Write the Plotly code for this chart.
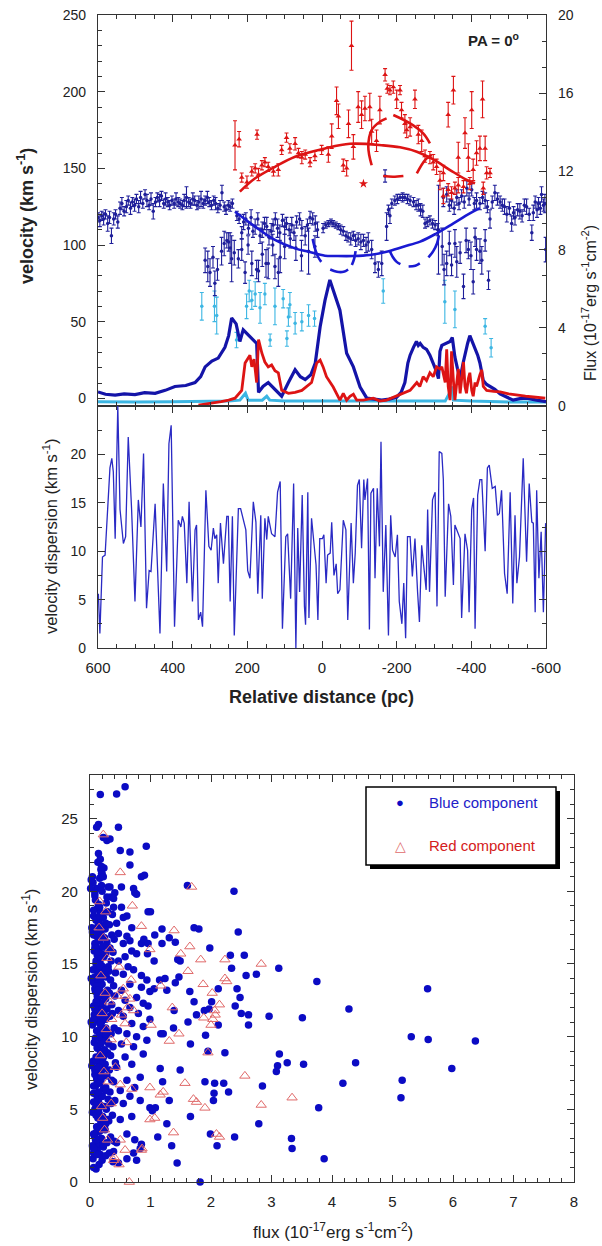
import plotly.graph_objects as go

W, H = 602, 1246
FONT = "Liberation Sans, Arial, sans-serif"

# ---------------- top panel: line-of-sight velocity along the slit ----------------
# blue component (d = relative distance in pc, v in km/s, e = error)
blue_vel_d = [600, 595, 590, 585, 580, 574, 569, 564, 558, 553,
              547, 541, 536, 530, 524, 519, 513, 508, 502, 497,
              491, 486, 480, 474, 469, 463, 458, 452, 446, 441,
              435, 430, 424, 419, 413, 408, 402, 396, 391, 385,
              380, 374, 369, 363, 357, 352, 346, 341, 335, 330,
              324, 318, 313, 307, 302, 296, 290, 285, 279, 273,
              268, 262, 257, 251, 246, 240,
              228, 222, 215, 210, 204, 197, 190, 185, 179, 172,
              166, 160, 154, 148, 142, 136, 131, 125, 119, 113,
              106, 100, 95, 88, 81, 75, 68, 60, 54, 45,
              39, 32, 25, 18, 12,
              313, 306, 300, 292, 287, 280, 269, 262, 255, 250,
              246, 242, 235, 224, 215, 206, 198, 188, 175, 170,
              160, 150, 144, 132, 126, 117, 112, 100, 85, 70,
              55, 36, 19,
              -3, -10, -17, -24, -30, -37, -44, -50, -57, -64,
              -70, -77, -84, -90, -97, -104, -111, -118, -124, -133,
              -142, -151, -160, -169, -173, -178, -182, -187, -195, -202,
              -209, -216, -222, -229, -236, -245, -252, -258, -264, -270,
              -276, -282, -289, -296, -303, -310, -312,
              -325, -334, -341, -347, -354, -361, -367, -374, -381, -388,
              -394, -401, -408, -414, -423, -430, -437, -443, -450, -456,
              -463, -470, -477, -483, -489, -495, -502, -508, -513, -517,
              -524, -530, -536, -542, -548, -555, -562, -566, -571, -576,
              -580, -585, -588, -593, -597, -599,
              -322, -327, -334, -341, -347, -356, -361, -370, -379, -386,
              -392, -399, -405, -410, -414, -423, -428, -437, -446]
blue_vel_v = [118, 116, 119, 117, 120, 114, 118, 106, 117, 120,
              115, 124, 127, 122, 125, 129, 124, 128, 126, 130,
              125, 131, 127, 133, 129, 126, 130, 122, 128, 131,
              129, 132, 127, 130, 128, 126, 129, 127, 130, 128,
              127, 126, 129, 131, 128, 127, 130, 129, 126, 128,
              130, 127, 129, 131, 128, 126, 129, 127, 124, 126,
              134, 125, 123, 126, 125, 127,
              119, 117, 108, 115, 117, 111, 118, 109, 112, 117,
              106, 110, 114, 112, 105, 109, 113, 117, 111, 108,
              116, 112, 114, 110, 113, 108, 115, 117, 111, 106,
              113, 118, 117, 114, 110,
              90, 86, 82, 92, 75, 84, 96, 101, 103, 102,
              98, 91, 95, 91, 97, 82, 100, 88, 84, 83,
              94, 88, 88, 100, 86, 82, 92, 99, 104, 98,
              93, 96, 99,
              111, 113, 114, 115, 114, 113, 112, 110, 109, 106,
              105, 104, 106, 103, 104, 102, 103, 100, 102, 97,
              88, 84, 88, 145, 112, 123, 119, 127, 129, 130,
              131, 131, 131, 130, 129, 128, 126, 126, 123, 122,
              114, 115, 116, 114, 113, 110, 110,
              131, 133, 126, 129, 124, 131, 127, 132, 128, 137,
              130, 136, 127, 129, 127, 131, 129, 125, 117, 128,
              134, 130, 128, 126, 125, 120, 124, 114, 121, 118,
              123, 122, 119, 126, 125, 120, 108, 121, 128, 123,
              127, 124, 133, 126, 127, 97,
              99, 84, 88, 101, 87, 101, 89, 95, 73, 103,
              97, 93, 76, 105, 97, 96, 90, 103, 77]
blue_vel_e = [3, 4, 3, 4, 3, 5, 4, 5, 4, 3,
              4, 4, 4, 3, 4, 3, 4, 3, 4, 3,
              4, 4, 3, 3, 4, 3, 4, 5, 3, 3,
              4, 3, 3, 4, 3, 3, 3, 3, 4, 3,
              3, 3, 4, 7, 3, 3, 4, 3, 3, 4,
              5, 3, 3, 4, 3, 3, 3, 4, 3, 3,
              5, 3, 3, 3, 3, 3,
              3, 3, 4, 5, 4, 4, 5, 4, 5, 4,
              5, 5, 4, 6, 5, 5, 4, 4, 6, 5,
              4, 5, 4, 4, 5, 5, 4, 4, 5, 6,
              4, 4, 4, 5, 5,
              8, 10, 9, 7, 8, 7, 9, 8, 5, 6,
              10, 15, 8, 6, 7, 7, 6, 8, 6, 7,
              8, 9, 10, 7, 8, 9, 10, 8, 6, 8,
              10, 15, 7,
              3, 2, 2, 2, 2, 2, 2, 3, 3, 3,
              3, 4, 3, 4, 4, 5, 4, 5, 6, 6,
              6, 5, 8, 4, 9, 3, 5, 3, 3, 3,
              2, 3, 2, 3, 3, 3, 3, 4, 4, 4,
              3, 3, 3, 3, 3, 4, 29,
              6, 5, 4, 5, 4, 5, 4, 4, 4, 5,
              4, 4, 4, 5, 4, 4, 5, 4, 6, 4,
              5, 4, 4, 4, 5, 5, 4, 5, 4, 5,
              4, 5, 4, 4, 5, 4, 5, 5, 4, 5,
              4, 4, 5, 4, 6, 8,
              12, 10, 8, 8, 7, 9, 10, 7, 8, 8,
              6, 9, 8, 6, 7, 8, 9, 7, 6]

# red component
red_vel_d = [233, 222, 174, 215, 201, 188, 179, 170, 161, 153,
             144, 130, 117, 108, 95, 86, 72, 63, 54, 45,
             32, 19, 1, -17, -26, -39, -44, -57, -66, -71,
             -79, -84, -97, -106, -115, -128, -133, -146, -155, -169,
             -175, -182, -191, -200, -209, -213, -222, -227, -236, -249,
             -258, -267, -276, -289, -298, -307, -325, -338, -352, -365,
             -383, -392, -401, -405, -414, -423, -430, -437, -441, -450,
             -316, -325, -338, -347, -356, -365, -379, -396, -432]
red_vel_v = [165, 169, 172, 144, 141, 148, 150, 146, 152, 154,
             151, 148, 149, 162, 170, 163, 166, 160, 157, 159,
             154, 158, 162, 159, 171, 194, 184, 152, 150, 179,
             230, 164, 190, 185, 189, 190, 174, 168, 188, 211,
             202, 201, 203, 195, 201, 188, 179, 175, 177, 195,
             172, 168, 158, 157, 154, 151, 147, 185, 201, 157,
             173, 157, 188, 149, 160, 163, 195, 163, 147, 147,
             142, 132, 136, 134, 137, 139, 138, 140, 137]
red_vel_e = [16, 5, 3, 3, 4, 3, 3, 4, 3, 3,
             3, 3, 4, 3, 3, 3, 4, 3, 4, 3,
             3, 3, 3, 5, 8, 9, 8, 4, 5, 9,
             16, 8, 10, 9, 8, 9, 8, 7, 9, 4,
             3, 3, 4, 6, 3, 5, 6, 5, 6, 6,
             6, 7, 4, 4, 5, 5, 5, 8, 9, 10,
             10, 9, 12, 7, 8, 8, 12, 8, 4, 3,
             6, 5, 4, 4, 4, 5, 4, 4, 4]
red_star_d = [-111]
red_star_v = [140]

# third (cyan) component
cyan_vel_d = [322, 288, 282, 229, 202, 195, 188, 179, 166, 153,
              139, 126, 104, 94, 90, 86, 72, 54, 36, 20,
              -164, -329, -356, -437, -453]
cyan_vel_v = [60, 60, 54, 38, 60, 70, 64, 68, 59, 68,
              38, 60, 65, 39, 53, 61, 49, 50, 54, 52,
              70, 63, 58, 47, 33]
cyan_vel_e = [9, 10, 12, 5, 8, 7, 6, 8, 10, 7,
              4, 12, 6, 5, 6, 8, 7, 6, 7, 5,
              8, 14, 12, 5, 6]

# rotation-curve fits
blue_fit_d = [233, 179, 126, 72, 36, -8, -39, -84, -128, -173, -218, -263, -307, -352, -396, -423]
blue_fit_v = [121.7, 112, 103.3, 97.8, 95.6, 93, 92.8, 92.8, 93.5, 95.6, 98.9, 102.2, 107.6, 114.1, 120.6, 124]
red_fit_d = [220, 179, 126, 72, -8, -75, -164, -209, -254, -298, -343, -388, -410]
red_fit_v = [134.8, 143.5, 151, 157.6, 163, 166, 165, 163.7, 160.8, 155.8, 148.9, 142.4, 140.2]

# expanding-shell ellipse arcs (each inner list is one visible piece)
red_arc_d = [[-133, -124, -133, -155, -173], [-164, -190, -218],
             [-191, -236, -271, -289], [-254, -276, -294]]
red_arc_v = [[152, 164, 175, 180.4, 182.6], [145, 144.5, 145],
             [184.8, 179.3, 172.8, 166.3], [146.7, 155.4, 158.7]]
blue_arc_d = [[25, 18, 10, 2], [-22, -40, -58, -70], [-80, -86, -90],
              [-182, -190, -200, -210], [-232, -250, -262], [-285, -298, -308, -313]]
blue_arc_v = [[104, 97, 92, 89], [84, 82.5, 82.5, 84], [87, 91, 96],
              [96, 92, 89, 87.5], [86, 86.5, 88], [92, 96, 101, 106]]

# emission-line flux profiles (right axis, 1e-17 erg/s/cm2)
blue_flux_d = [600, 580, 554, 530, 501, 475, 447, 420, 394, 365,
               340, 325, 313, 295, 278, 260, 250, 242, 230, 220,
               211, 195, 175, 170, 158, 144, 125, 108, 90, 72,
               58, 45, 30, 18, 5, -8, -21, -30, -48, -66,
               -84, -102, -120, -140, -160, -180, -200, -212, -222, -230,
               -236, -245, -253, -258, -263, -271, -280, -289, -298, -306,
               -312, -316, -321, -334, -343, -349, -356, -363, -370, -378,
               -383, -390, -396, -403, -410, -417, -423, -432, -441, -450,
               -463, -477, -495, -512, -530, -548, -575, -600]
blue_flux_f = [0.72, 0.6, 0.56, 0.62, 0.58, 0.68, 0.65, 0.8, 1.0, 1.05,
               1.2, 1.5, 2.0, 2.3, 2.45, 3.0, 3.6, 4.5, 4.2, 3.3,
               3.9, 3.6, 3.2, 0.7, 1.0, 1.2, 0.8, 0.5, 1.2, 1.85,
               1.5, 1.35, 1.6, 2.2, 4.05, 5.4, 6.45, 5.9, 4.9, 2.7,
               2.0, 0.97, 0.4, 0.35, 0.3, 0.35, 0.45, 0.7, 1.2, 2.2,
               2.6, 3.0, 3.3, 3.1, 3.2, 3.0, 2.9, 2.6, 2.2, 1.8,
               1.4, 2.8, 3.1, 3.2, 3.3, 3.5, 2.5, 1.9, 1.4, 2.2,
               2.7, 3.2, 3.6, 3.3, 3.0, 2.6, 2.2, 1.3, 1.1, 1.0,
               0.85, 0.62, 0.45, 0.3, 0.38, 0.4, 0.3, 0.22]
red_flux_d = [331, 300, 270, 250, 233, 215, 206, 193, 188, 182,
              175, 170, 161, 153, 144, 135, 126, 117, 108, 90,
              72, 54, 41, 28, 14, 5, -3, -12, -30, -48,
              -57, -66, -75, -84, -93, -111, -137, -155, -173, -200,
              -218, -236, -254, -262, -271, -280, -289, -298, -307, -316,
              -321, -330, -334, -338, -343, -347, -352, -356, -361, -365,
              -370, -374, -379, -383, -387, -392, -396, -401, -405, -410,
              -414, -423, -428, -432, -441, -460, -477, -500, -521, -545, -566, -598]
red_flux_f = [0.05, 0.12, 0.22, 0.3, 0.4, 0.8, 2.2, 2.6, 2.0, 2.4,
              1.2, 3.4, 2.7, 2.25, 2.0, 2.1, 1.8, 1.7, 0.8, 0.65,
              0.7, 0.8, 1.0, 1.2, 2.2, 2.35, 2.0, 1.5, 0.97, 0.3,
              0.65, 0.3, 0.5, 0.6, 0.3, 0.3, 0.4, 0.25, 0.3, 0.5,
              0.65, 0.8, 1.2, 1.0, 1.5, 1.3, 1.7, 1.5, 2.0, 1.9,
              2.0, 1.2, 2.9, 1.0, 0.3, 2.8, 1.3, 0.3, 1.2, 1.9,
              0.65, 1.5, 2.25, 1.0, 0.65, 1.4, 1.7, 0.8, 0.5, 1.2,
              1.0, 1.6, 1.85, 1.0, 0.8, 0.75, 0.72, 0.62, 0.55, 0.5, 0.46, 0.4]
cyan_flux_d = [600, 500, 400, 330, 250, 220, 205, 198, 160, 148, 140, 100, 50, 0,
               -100, -200, -330, -340, -347, -352, -400, -500, -600]
cyan_flux_f = [0.22, 0.2, 0.22, 0.22, 0.25, 0.3, 0.65, 0.3, 0.3, 0.5, 0.3, 0.25, 0.25, 0.25,
               0.25, 0.22, 0.25, 0.6, 1.0, 0.3, 0.25, 0.2, 0.2]

# ---------------- middle panel: velocity dispersion along the slit ----------------
disp_d = [599, 595, 588, 581, 568, 563, 559, 554, 547, 541,
          532, 526, 519, 510, 501, 492, 485, 478, 470, 463,
          458, 447, 434, 425, 416, 410, 404, 395, 385, 378,
          374, 369, 362, 356, 347, 340, 336, 331, 325, 320,
          311, 303, 297, 291, 287, 282, 278, 272, 264, 255,
          251, 246, 240, 235, 224, 218, 204, 199, 193, 184,
          177, 172, 164, 160, 153, 148, 144, 135, 126, 119,
          112, 106, 97, 92, 84, 76, 70, 65, 60, 53,
          47, 44, 38, 35, 28, 20, 16, 11, 6, -1,
          -5, -11, -15, -22, -26, -32, -38, -42, -48, -57,
          -64, -69, -78, -84, -89, -95, -100, -106, -112, -115,
          -122, -127, -131, -138, -142, -148, -154, -158, -164, -171,
          -178, -184, -189, -196, -202, -207, -214, -219, -224, -229,
          -236, -242, -249, -256, -261, -267, -273, -279, -283, -288,
          -296, -303, -308, -314, -321, -325, -330, -339, -345, -352,
          -356, -364, -370, -374, -383, -390, -394, -401, -406, -410,
          -417, -423, -428, -437, -443, -448, -456, -464, -470, -475,
          -481, -489, -496, -504, -511, -517, -522, -529, -539, -548,
          -555, -562, -566, -571, -575, -581, -587, -593, -599]
disp_s = [5.6, 1.5, 9.4, 9.6, 18.6, 19.6, 18.2, 11.3, 25.0, 14.3,
          10.8, 11.5, 21.8, 14.3, 4.8, 15.3, 12.5, 20.1, 4.1, 8.0,
          7.9, 14.9, 1.5, 17.0, 7.9, 21.1, 23.0, 2.2, 13.2, 12.5,
          13.6, 12.9, 6.7, 15.1, 4.8, 12.2, 12.7, 2.9, 3.7, 2.2,
          16.3, 10.5, 10.1, 12.4, 11.3, 11.7, 6.7, 12.9, 8.7, 13.6,
          13.6, 4.8, 13.6, 1.3, 14.4, 14.4, 12.2, 8.0, 7.2, 15.1,
          13.0, 5.6, 13.7, 5.1, 13.4, 11.2, 13.6, 11.8, 11.5, 16.1,
          17.2, 2.0, 11.5, 11.8, 5.1, 17.0, 0.0, 12.4, 5.8, 15.8,
          4.3, 2.4, 16.1, 3.1, 13.4, 9.8, 8.6, 2.9, 11.3, 11.3,
          11.7, 6.7, 9.6, 9.8, 13.0, 7.5, 8.7, 5.6, 6.0, 13.2,
          12.2, 2.9, 12.9, 6.7, 9.8, 16.8, 17.4, 10.3, 17.4, 15.3,
          17.5, 1.9, 16.0, 16.5, 7.2, 16.5, 10.5, 21.3, 5.8, 12.7,
          1.3, 13.7, 10.1, 9.4, 11.7, 4.8, 2.5, 6.7, 1.0, 11.5,
          11.5, 7.4, 11.3, 5.8, 2.7, 10.6, 8.4, 6.0, 14.3, 5.8,
          15.3, 16.1, 4.3, 20.3, 20.1, 17.4, 5.3, 14.9, 13.6, 6.5,
          12.7, 12.0, 11.3, 3.1, 11.8, 10.1, 3.7, 14.3, 15.5, 2.0,
          15.8, 17.4, 17.4, 10.0, 18.6, 18.9, 16.5, 16.7, 13.7, 13.9,
          16.3, 7.7, 5.6, 16.1, 4.6, 13.7, 6.7, 9.4, 19.6, 8.9,
          17.0, 13.0, 12.9, 3.7, 16.3, 7.2, 12.0, 3.7, 12.9]

# ---------------- bottom panel: dispersion vs flux ----------------
sc_blue_flux = [
    0.05, 0.07, 0.04, 0.06, 0.08, 0.05, 0.07, 0.04, 0.06, 0.08,
    0.05, 0.07, 0.04, 0.06, 0.08, 0.05, 0.04, 0.07, 0.06, 0.08,
    0.10, 0.12, 0.09, 0.11, 0.13, 0.10, 0.12, 0.09, 0.11, 0.13,
    0.10, 0.12, 0.09, 0.11, 0.13, 0.10, 0.12, 0.09, 0.11, 0.13,
    0.10, 0.12, 0.09, 0.11, 0.13, 0.10, 0.12, 0.09, 0.11, 0.13,
    0.15, 0.17, 0.14, 0.16, 0.18, 0.15, 0.17, 0.14, 0.16, 0.18,
    0.15, 0.17, 0.14, 0.16, 0.18, 0.15, 0.17, 0.14, 0.16, 0.18,
    0.15, 0.17, 0.14, 0.16, 0.18, 0.15, 0.17, 0.14, 0.16, 0.18,
    0.20, 0.22, 0.19, 0.23, 0.21, 0.24, 0.20, 0.22, 0.19, 0.23,
    0.21, 0.24, 0.20, 0.22, 0.19, 0.23, 0.21, 0.24, 0.20, 0.22,
    0.19, 0.23, 0.21, 0.24, 0.20, 0.22, 0.19, 0.23,
    0.26, 0.28, 0.25, 0.29, 0.27, 0.30, 0.26, 0.28, 0.25, 0.29,
    0.27, 0.30, 0.26, 0.28, 0.25, 0.29, 0.27, 0.30, 0.26, 0.28,
    0.25, 0.29, 0.27, 0.30,
    0.32, 0.34, 0.31, 0.35, 0.33, 0.36, 0.32, 0.34, 0.31, 0.35,
    0.33, 0.36, 0.32, 0.34, 0.31, 0.35, 0.33, 0.36, 0.32, 0.34,
    0.38, 0.40, 0.37, 0.41, 0.39, 0.42, 0.38, 0.40, 0.37, 0.41,
    0.39, 0.42, 0.38, 0.40, 0.37, 0.41,
    0.02, 0.01, 0.06, 0.03, 0.02, 0.03, 0.02, 0.04,
    0.06, 0.10, 0.14, 0.18, 0.22, 0.26, 0.08, 0.12, 0.16, 0.20,
    0.06, 0.10, 0.14, 0.18, 0.22, 0.26, 0.08, 0.12, 0.16, 0.20,
    0.06, 0.10, 0.14, 0.18, 0.22, 0.26, 0.08, 0.12, 0.16, 0.20,
    0.06, 0.10, 0.14, 0.18, 0.22, 0.26, 0.08, 0.12, 0.16, 0.20,
    0.06, 0.10, 0.14, 0.18, 0.22, 0.26, 0.08, 0.12, 0.16, 0.20,
    0.06, 0.10, 0.14, 0.18, 0.22, 0.26, 0.08, 0.12, 0.16, 0.20,
    0.06, 0.10, 0.14, 0.18, 0.22, 0.26, 0.08, 0.12, 0.16, 0.20,
    0.06, 0.10, 0.14, 0.18, 0.22, 0.26, 0.08, 0.12, 0.16, 0.20,
    0.58, 0.44, 0.17, 0.47, 0.14, 0.11, 0.22, 0.28, 0.33, 0.50,
    0.66, 0.66, 0.85, 0.14, 0.17, 0.19, 0.19, 0.22, 0.52, 0.72,
    0.74, 0.77, 0.33, 0.28, 0.39, 0.52, 0.39, 0.61, 0.55, 0.44,
    0.69, 0.47, 0.61, 0.55, 0.66, 0.69, 0.85, 0.96, 0.77, 0.58,
    0.47, 0.63, 0.72, 0.55, 0.85, 0.94, 0.66, 0.85, 0.52, 0.99,
    0.77, 0.58, 0.88, 0.66, 0.47, 0.80, 0.55, 0.99, 0.69, 0.88,
    0.47, 0.61, 0.77, 0.94, 0.52, 0.72, 0.88, 0.58, 0.69, 0.44,
    0.83, 0.61, 0.74, 0.50, 0.66, 0.83, 0.55, 0.99, 0.69, 0.50,
    0.61, 0.74, 0.85, 0.83, 0.72, 0.61, 0.77, 0.47, 0.39, 0.44,
    1.61, 2.38, 2.45, 1.98, 2.32, 2.34, 2.55, 3.12, 2.58, 2.75,
    2.43, 2.12, 2.48, 2.40, 2.50, 2.62, 2.62, 2.96, 3.51, 3.75,
    4.28, 5.58, 5.31, 5.59, 6.37, 5.98, 4.39, 3.13, 3.26, 3.53,
    3.10, 3.08, 4.18, 5.16, 5.14, 2.85, 3.78, 3.33, 3.34, 3.87,
    2.39, 2.79, 2.29, 2.21, 2.06, 2.05, 2.04, 1.99, 2.10, 1.82,
    1.44, 1.35, 1.12, 1.27, 1.66, 1.90, 2.23, 1.95, 1.66, 2.12,
    1.91, 1.62, 1.76, 1.97, 1.89, 1.72, 2.01, 1.65, 1.41, 1.47,
    1.45, 1.49, 1.72, 1.80, 1.19, 1.41, 1.19, 1.07, 1.31, 0.89,
    0.95, 1.06, 1.15, 1.24, 1.27, 1.06, 1.39, 0.96, 1.17, 1.21,
    1.38, 1.49, 1.16, 1.20, 1.31, 1.08, 1.03, 0.93, 0.96, 1.00, 0.90]
sc_blue_disp = [
    1.6, 3.2, 4.8, 6.1, 7.4, 8.3, 9.6, 10.8, 12.1, 13.3,
    14.6, 15.9, 17.2, 18.3, 19.7, 20.6, 21.0, 11.5, 5.5, 16.4,
    0.9, 2.2, 2.9, 3.8, 4.4, 5.1, 5.8, 6.6, 7.1, 7.9,
    8.6, 9.2, 9.9, 10.4, 11.1, 11.8, 12.5, 13.1, 13.8, 14.3,
    15.0, 15.6, 16.3, 16.9, 17.6, 18.1, 18.8, 19.4, 20.2, 22.0,
    1.2, 1.9, 2.6, 3.5, 4.1, 4.7, 5.3, 6.0, 6.8, 7.5,
    8.0, 8.8, 9.4, 10.1, 10.7, 11.3, 12.0, 12.7, 13.4, 14.0,
    14.7, 15.3, 16.0, 16.6, 17.3, 17.9, 18.5, 19.1, 20.9, 21.5,
    1.5, 2.4, 3.0, 3.9, 4.5, 5.2, 5.9, 6.4, 7.2, 7.8,
    8.5, 9.1, 9.8, 10.5, 11.0, 11.7, 12.3, 12.9, 13.6, 14.2,
    14.9, 15.5, 16.2, 16.8, 17.5, 18.2, 20.4, 21.6,
    1.8, 2.7, 3.6, 4.3, 5.0, 5.7, 6.5, 7.3, 8.1, 8.9,
    9.7, 10.3, 11.2, 11.9, 12.6, 13.2, 14.1, 14.8, 15.7, 16.5,
    17.4, 18.6, 19.2, 20.3,
    2.0, 3.1, 4.2, 5.4, 6.2, 7.0, 7.7, 8.7, 9.5, 10.2,
    11.4, 12.2, 13.0, 13.9, 14.5, 15.2, 16.1, 17.0, 17.7, 19.6,
    1.4, 2.8, 4.6, 5.6, 6.9, 8.2, 9.3, 10.6, 11.6, 12.8,
    13.5, 14.4, 15.8, 16.7, 18.4, 19.9,
    20.8, 20.2, 18.7, 17.5, 14.0, 8.0, 11.0, 2.5,
    2.0, 3.4, 5.6, 7.0, 8.9, 10.0, 11.4, 12.8, 14.4, 15.7,
    17.0, 18.0, 19.0, 3.0, 4.3, 6.3, 7.7, 9.3, 10.9, 12.3,
    13.7, 15.2, 16.7, 18.5, 2.6, 4.0, 5.0, 6.9, 8.2, 9.7,
    11.2, 12.4, 13.9, 15.4, 16.2, 17.8, 19.9, 1.9, 3.6, 5.9,
    6.6, 8.4, 9.9, 11.6, 13.0, 14.6, 16.1, 17.1, 18.9, 20.0,
    2.3, 4.6, 6.2, 7.6, 9.0, 10.6, 12.1, 13.5, 15.0, 16.9,
    1.0, 2.9, 4.9, 7.3, 8.6, 10.2, 11.9, 13.2, 14.9, 17.4,
    3.3, 5.3, 7.9, 9.5, 11.3, 12.6, 14.1, 15.8, 18.3, 21.2,
    27.2, 26.7, 26.65, 24.4, 24.6, 24.4, 23.7, 23.5, 23.6, 22.8,
    22.7, 21.8, 21.0, 22.6, 22.2, 21.7, 21.2, 21.0, 20.3, 20.2,
    19.9, 19.8, 20.3, 19.6, 19.5, 18.9, 18.9, 18.3, 18.2, 17.8,
    17.5, 17.1, 16.9, 16.4, 16.6, 15.9, 16.4, 16.4, 15.7, 15.5,
    15.2, 14.8, 14.6, 14.3, 14.2, 13.9, 13.6, 13.4, 13.2, 13.1,
    12.7, 12.5, 12.3, 12.0, 11.8, 11.6, 11.4, 11.2, 10.9, 10.7,
    10.4, 10.2, 10.0, 9.75, 9.5, 9.3, 8.8, 8.6, 8.1, 7.9,
    7.2, 7.0, 6.5, 6.3, 5.9, 5.6, 5.4, 5.1, 4.5, 4.3,
    3.3, 2.9, 2.6, 2.3, 2.0, 1.6, 1.5, 1.3, 2.1, 2.7,
    20.4, 20.0, 17.2, 16.1, 15.6, 14.7, 15.6, 14.7, 14.2, 14.3,
    13.3, 13.3, 12.7, 12.1, 11.6, 11.5, 10.8, 11.4, 11.3, 13.8,
    11.9, 13.3, 10.0, 9.8, 9.7, 7.8, 8.2, 8.8, 8.2, 8.1,
    8.0, 7.6, 6.8, 7.0, 5.8, 6.6, 5.1, 3.0, 2.3, 1.6,
    3.1, 4.0, 6.2, 6.8, 6.8, 6.1, 5.6, 3.3, 2.5, 0.0,
    1.3, 2.5, 3.1, 4.0, 4.5, 6.9, 8.9, 9.0, 9.5, 10.8,
    10.1, 11.0, 11.5, 11.9, 11.8, 12.4, 12.4, 13.1, 13.7, 14.1,
    15.3, 15.2, 17.5, 17.4, 17.4, 16.5, 16.4, 17.0, 16.8, 16.7,
    15.7, 15.2, 13.9, 14.0, 13.2, 13.3, 11.8, 12.1, 10.2, 10.2,
    10.6, 7.7, 7.8, 6.9, 5.6, 5.1, 4.9, 23.1, 18.6, 18.6, 21.1]

sc_red_flux = [
    0.48, 0.65, 0.50, 0.85, 0.58, 0.39, 0.50, 0.69, 0.99, 0.99,
    1.07, 1.16, 1.21, 1.57, 1.71, 1.76, 1.90, 2.09, 2.14, 2.56,
    1.68, 0.50, 0.22, 0.70, 0.85, 1.39, 1.65, 1.50, 1.83, 2.23,
    2.83, 1.62, 2.23, 2.26, 1.87, 1.17, 2.02, 2.14, 2.06, 1.88,
    1.36, 2.07, 2.03, 2.00, 1.47, 1.31, 1.95, 2.83, 3.34, 1.38,
    1.01, 0.99, 0.68, 0.58, 0.35, 0.40, 0.86,
    0.15, 0.22, 0.28, 0.18, 0.25, 0.32, 0.20, 0.27, 0.35, 0.17,
    0.23, 0.30, 0.26, 0.19, 0.33, 0.24, 0.29, 0.21, 0.36, 0.16,
    0.45, 0.52, 0.58, 0.62, 0.55, 0.48, 0.66, 0.72, 0.60, 0.42]
sc_red_disp = [
    1.2, 0.0, 2.9, 2.2, 2.2, 1.5, 6.7, 6.4, 6.5, 4.3,
    4.4, 6.0, 6.2, 6.8, 5.7, 5.5, 5.1, 3.3, 3.1, 7.3,
    20.3, 21.3, 23.9, 19.0, 17.6, 17.3, 16.2, 15.7, 15.3, 15.3,
    15.0, 14.5, 14.0, 13.8, 13.6, 13.5, 13.0, 12.2, 11.8, 11.3,
    12.0, 11.5, 11.2, 10.8, 10.2, 9.7, 8.9, 5.3, 5.8, 3.4,
    10.8, 16.0, 13.9, 12.8, 5.4, 1.7, 2.3,
    17.5, 16.8, 15.4, 14.2, 13.0, 12.4, 11.6, 10.5, 9.8, 8.7,
    7.6, 6.9, 18.6, 5.2, 16.0, 3.6, 2.9, 4.4, 11.2, 19.3,
    12.8, 11.5, 10.9, 12.0, 13.3, 14.8, 12.6, 11.8, 9.6, 7.9]

# ---------------- styling ----------------
NAVY = "#1f1f9a"
BLUE_LINE = "#1414a8"
FIT_BLUE = "#1a1ad2"
RED = "#dd1414"
CYAN = "#3cb6e3"
DISP = "#2a2ac4"
SC_BLUE = "#0b0bc4"
SC_RED = "#e06a6a"
AX = "#333333"


def px(x):
    return x / W


def py(y):
    return 1 - y / H


def pieces(ds, vs):
    xs, ys = [], []
    for d, v in zip(ds, vs):
        xs += d + [None]
        ys += v + [None]
    return xs, ys


fig = go.Figure()

# top panel: points
fig.add_trace(go.Scatter(x=cyan_vel_d, y=cyan_vel_v, mode="markers", xaxis="x", yaxis="y",
                         marker=dict(size=3.5, color=CYAN),
                         error_y=dict(type="data", array=cyan_vel_e, color=CYAN, thickness=1.1, width=2)))
fig.add_trace(go.Scatter(x=blue_vel_d, y=blue_vel_v, mode="markers", xaxis="x", yaxis="y",
                         marker=dict(size=3.5, color=NAVY),
                         error_y=dict(type="data", array=blue_vel_e, color=NAVY, thickness=1.1, width=2)))
fig.add_trace(go.Scatter(x=red_vel_d, y=red_vel_v, mode="markers", xaxis="x", yaxis="y",
                         marker=dict(size=5, color=RED, symbol="triangle-up"),
                         error_y=dict(type="data", array=red_vel_e, color=RED, thickness=1.1, width=2)))
fig.add_trace(go.Scatter(x=red_star_d, y=red_star_v, mode="markers", xaxis="x", yaxis="y",
                         marker=dict(size=7, color=RED, symbol="star")))

# fits and ellipse arcs
fig.add_trace(go.Scatter(x=blue_fit_d, y=blue_fit_v, mode="lines", xaxis="x", yaxis="y",
                         line=dict(color=FIT_BLUE, width=2.6, shape="spline")))
fig.add_trace(go.Scatter(x=red_fit_d, y=red_fit_v, mode="lines", xaxis="x", yaxis="y",
                         line=dict(color=RED, width=2.6, shape="spline")))
bx, by = pieces(blue_arc_d, blue_arc_v)
fig.add_trace(go.Scatter(x=bx, y=by, mode="lines", xaxis="x", yaxis="y", connectgaps=False,
                         line=dict(color=FIT_BLUE, width=2.6, shape="spline")))
rx, ry = pieces(red_arc_d, red_arc_v)
fig.add_trace(go.Scatter(x=rx, y=ry, mode="lines", xaxis="x", yaxis="y", connectgaps=False,
                         line=dict(color=RED, width=2.6, shape="spline")))

# flux profiles on right axis
fig.add_trace(go.Scatter(x=cyan_flux_d, y=cyan_flux_f, mode="lines", xaxis="x", yaxis="y2",
                         line=dict(color=CYAN, width=3)))
fig.add_trace(go.Scatter(x=blue_flux_d, y=blue_flux_f, mode="lines", xaxis="x", yaxis="y2",
                         line=dict(color=BLUE_LINE, width=3.2)))
fig.add_trace(go.Scatter(x=red_flux_d, y=red_flux_f, mode="lines", xaxis="x", yaxis="y2",
                         line=dict(color=RED, width=2.8)))

# middle panel
fig.add_trace(go.Scatter(x=disp_d, y=disp_s, mode="lines", xaxis="x2", yaxis="y3",
                         line=dict(color=DISP, width=1.3)))

# bottom panel
fig.add_trace(go.Scatter(x=sc_blue_flux, y=sc_blue_disp, mode="markers", xaxis="x3", yaxis="y4",
                         cliponaxis=False, marker=dict(size=7.5, color=SC_BLUE)))
fig.add_trace(go.Scatter(x=sc_red_flux, y=sc_red_disp, mode="markers", xaxis="x3", yaxis="y4",
                         cliponaxis=False,
                         marker=dict(size=9, color=SC_RED, symbol="triangle-up-open",
                                     line=dict(color=SC_RED, width=1))))

tickfont = dict(family=FONT, size=14, color="#222")
base = dict(showline=True, linecolor=AX, linewidth=1.3, ticks="inside", ticklen=7,
            tickwidth=1, tickcolor=AX, showgrid=False, zeroline=False, tickfont=tickfont,
            automargin=False)


def minor(step, tick0=0):
    return dict(ticks="inside", ticklen=4, tickcolor=AX, dtick=step, tick0=tick0, showgrid=False)


xdom = [px(98), px(546)]
dist_ticks = [600, 400, 200, 0, -200, -400, -600]

fig.update_layout(
    width=W, height=H, margin=dict(l=0, r=0, t=0, b=0, autoexpand=False),
    paper_bgcolor="white", plot_bgcolor="white", showlegend=False,
    font=dict(family=FONT, color="#222"),
    xaxis=dict(base, domain=xdom, anchor="y", range=[600, -600], tickvals=dist_ticks,
               showticklabels=False, mirror="ticks", minor=minor(50)),
    yaxis=dict(base, domain=[py(406), py(15)], anchor="x", range=[-5, 250], dtick=50, tick0=0,
               minor=minor(10), ticklabelstandoff=8),
    yaxis2=dict(base, overlaying="y", side="right", anchor="x", range=[0, 20], dtick=4, tick0=0,
                minor=minor(4 / 3), ticklabelstandoff=8),
    xaxis2=dict(base, domain=xdom, anchor="y3", range=[600, -600], tickvals=dist_ticks,
                ticktext=["600", "400", "200", "0", "-200", "-400", "-600"], mirror="ticks",
                minor=minor(50), tickfont=dict(family=FONT, size=15, color="#222"), ticklabelstandoff=6),
    yaxis3=dict(base, domain=[py(648), py(406)], anchor="x2", range=[0, 25],
                tickvals=[0, 5, 10, 15, 20], mirror="ticks", ticklabelstandoff=8,
                minor=dict(ticks="inside", ticklen=4, tickcolor=AX, tickvals=[2.5, 7.5, 12.5, 17.5, 22.5])),
    xaxis3=dict(base, domain=[px(90), px(574)], anchor="y4", range=[0, 8], dtick=1, tick0=0,
                mirror="ticks", minor=minor(0.2), tickfont=dict(family=FONT, size=15, color="#222"),
                ticklabelstandoff=6),
    yaxis4=dict(base, domain=[py(1182), py(775)], anchor="x3", range=[0, 28], dtick=5, tick0=0,
                mirror="ticks", minor=minor(1), tickfont=dict(family=FONT, size=15, color="#222"),
                ticklabelstandoff=8),
)

ann = [
    dict(text="<b>velocity (km s<sup>-1</sup>)</b>", x=px(25), y=py(216), textangle=-90, size=18),
    dict(text="Flux (10<sup>-17</sup>erg s<sup>-1</sup>cm<sup>-2</sup>)", x=px(589), y=py(303),
         textangle=-90, size=16),
    dict(text="<b>PA = 0<sup>o</sup></b>", x=px(493), y=py(39), textangle=0, size=15),
    dict(text="velocity dispersion (km s<sup>-1</sup>)", x=px(50), y=py(536), textangle=-90, size=16.5),
    dict(text="<b>Relative distance (pc)</b>", x=px(322), y=py(697), textangle=0, size=18),
    dict(text="velocity dispersion (km s<sup>-1</sup>)", x=px(30), y=py(990), textangle=-90, size=17),
    dict(text="flux (10<sup>-17</sup>erg s<sup>-1</sup>cm<sup>-2</sup>)", x=px(333), y=py(1231),
         textangle=0, size=17),
]
for a in ann:
    fig.add_annotation(text=a["text"], x=a["x"], y=a["y"], xref="paper", yref="paper",
                       textangle=a["textangle"], showarrow=False, xanchor="center", yanchor="middle",
                       font=dict(family=FONT, size=a["size"], color="#222"))

# legend box of the scatter panel (with drop shadow)
fig.add_shape(type="rect", xref="paper", yref="paper", x0=px(370), x1=px(560), y0=py(869), y1=py(791),
              fillcolor="black", line=dict(width=0), layer="above")
fig.add_shape(type="rect", xref="paper", yref="paper", x0=px(366), x1=px(556), y0=py(865), y1=py(787),
              fillcolor="white", line=dict(color="black", width=1.5), layer="above")
legend_items = [("●", SC_BLUE, "Blue component", "#2020c8", 802, 13),
                ("△", SC_RED, "Red component", "#d42020", 846, 14)]
for sym, scol, label, tcol, yy, ss in legend_items:
    fig.add_annotation(text=sym, x=px(400), y=py(yy), xref="paper", yref="paper", showarrow=False,
                       xanchor="center", yanchor="middle", font=dict(family=FONT, size=ss, color=scol))
    fig.add_annotation(text=label, x=px(427), y=py(yy), xref="paper", yref="paper", showarrow=False,
                       xanchor="left", yanchor="middle", font=dict(family=FONT, size=15, color=tcol))

# the page body has a default 8px margin; drop it so the figure fills the window exactly
fig.write_html("out.html", config={"displayModeBar": False},
               post_script="document.body.style.margin='0';")
